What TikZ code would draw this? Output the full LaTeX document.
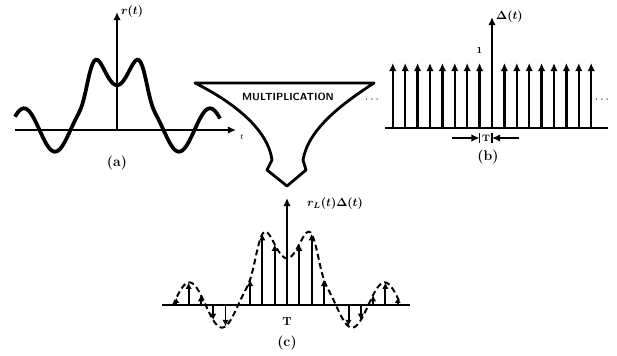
\documentclass[tikz,border=0pt]{standalone}
\usepackage{amsmath, amssymb}
\usepackage{tikz}
\usetikzlibrary{calc, arrows.meta, positioning}

\begin{document}
\begin{tikzpicture}[>={Latex[length=7pt,width=6.5pt]}, x=0.03cm, y=-0.03cm,
    declare function={sq(\u)=(\u/29.8)*(\u/29.8);
        sig(\x)=0.95*exp(-min(15,sq(\x)*sq(\x)*sq(\x)))-0.31*cos(5.80645*\x);},
    nhan/.style={font=\large\bfseries},
    truc/.style={line width=2.4pt},
    xung/.style={->, line width=1.9pt}]
    \useasboundingbox (0,0) rectangle (617,355);

    % (a) tín hiệu r(t)
    \coordinate (oa) at (117,130);
    \draw[truc, ->] (15,130) -- (236,130) coordinate (ta);
    \draw[line width=1.7pt, ->] (oa) -- (117,12) coordinate (ya);
    \node[font=\scriptsize, anchor=north west] (tlab) at (ta) {$t$};
    \node[anchor=west] (rlab) at (ya) {$\boldsymbol{r(t)}$};
    \draw[line width=3.2pt, samples=120, domain=-102:103]
        plot ({117+\x}, {130-70*sig(\x)});
    \node[nhan] (capa) at (117,163) {(a)};

    % Khối nhân
    \draw[line width=2.4pt, line join=round]
        (195,83) -- (374,83) .. controls (340,105) and (308,130) .. (303,160)
        -- (306,170) -- (287,186) -- (267,170) -- (272,160)
        .. controls (268,130) and (235,103) .. (195,83) -- cycle;
    \node[font=\sffamily\bfseries\fontsize{8.8}{8.8}\selectfont] (mult) at (288,97) {MULTIPLICATION};

    % (b) chuỗi xung Delta(t)
    \coordinate (ob) at (492,128);
    \draw[truc] (385,128) -- (608,128);
    \foreach \k in {-8,...,-1,1,2,...,8} {
        \draw[xung] ({492+12.4*\k},128) -- ++(0,-65);
    }
    \draw[xung] (ob) -- (492,17) coordinate (yb);
    \node[anchor=west] (dlab) at (yb) {$\boldsymbol{\Delta(t)}$};
    \node[font=\footnotesize\bfseries] (one) at (479.6,50) {1};
    \node[font=\bfseries] (dotsL) at (373,100) {$\cdots$};
    \node[font=\bfseries] (dotsR) at (603,100) {$\cdots$};
    % khoảng T
    \coordinate (m1) at (479.6,138);
    \coordinate (m2) at (492,138);
    \coordinate (pl) at (452,138);
    \coordinate (pr) at (519,138);
    \draw[line width=1.8pt, ->] (pl) -- (m1);
    \draw[line width=1.8pt, ->] (pr) -- (m2);
    \draw[line width=1.5pt] ($(m1)+(0,-5)$) -- ($(m1)+(0,5)$);
    \draw[line width=1.5pt] ($(m2)+(0,-5)$) -- ($(m2)+(0,5)$);
    \node[font=\footnotesize\bfseries] (tb) at (486,138) {T};
    \node[nhan] (capb) at (488,157) {(b)};

    % (c) tích r_L(t)Delta(t)
    \coordinate (oc) at (287,305);
    \draw[truc] (162,305) -- (410,305);
    \draw[line width=1.7pt, dash pattern=on 5pt off 3pt, samples=120, domain=-114:113]
        plot ({287+\x}, {305-73*sig(\x/1.05)});
    \foreach \k in {-9,...,-1,1,2,...,9} {
        \pgfmathsetmacro\h{73*sig(12.3*\k/1.05)}
        \pgfmathtruncatemacro\ok{abs(\h)>3}
        \pgfmathsetmacro\tip{min(5.5,0.6*abs(\h))}
        \ifnum\ok=1
            \draw[->, >={Latex[length=\tip pt,width=5.5pt]}, line width=1.7pt]
                ({287+12.3*\k},305) -- ++(0,-\h);
        \fi
    }
    \draw[xung] (oc) -- (287,198) coordinate (yc);
    \node[anchor=west] (clab) at ($(yc)+(16,6)$) {$\boldsymbol{r_L(t)\Delta(t)}$};
    \node[font=\bfseries] (tc) at (287,322) {T};
    \node[nhan] (capc) at (287,343) {(c)};
\end{tikzpicture}
\end{document}
